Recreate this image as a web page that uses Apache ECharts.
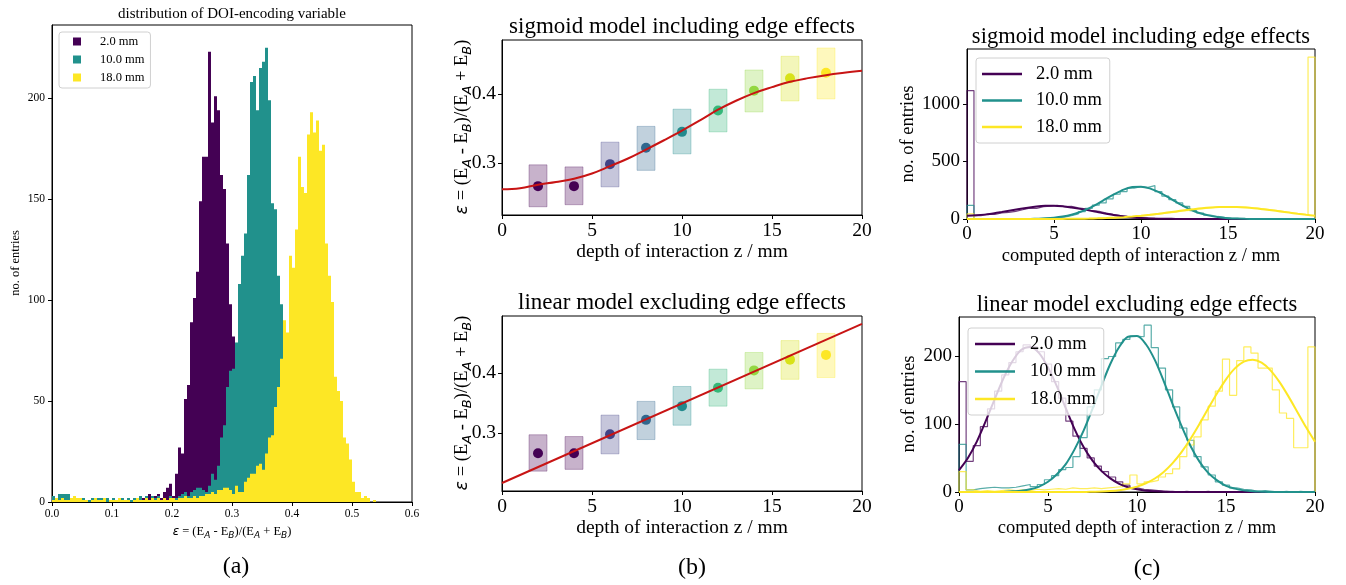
<!DOCTYPE html>
<html><head><meta charset="utf-8">
<script src="https://cdn.jsdelivr.net/npm/echarts@6/dist/echarts.min.js"></script>
<style>html,body{margin:0;padding:0;background:#fff}#c{width:1346px;height:585px}</style>
</head><body><div id="c"></div><script>
// ---------------- DATA ----------------
// (a) histogram of epsilon, bins of 0.005 starting at 0.0
const epsBinStart = 0.0;
const epsBinWidth = 0.005;
const epsHist2mm = [1,0,0,3,1,0,0,2,0,1, 0,0,0,1,0,0,2,1,1,1, 2,0,0,1,0,0,1,1,0,2,
  2,1,4,1,3,4,2,5,7,9, 3,14,27,24,51,58,89,101,114,149, 171,171,223,188,201,194,162,155,128,98,
  82,45,25,12,6,3,1,0,0,0, 0,0,0,0,0,0,0,0,0,0, 0,0,0,0,0,0,0,0,0,0, 0,0,0,0,0,0,0,0,0,0,
  0,0,0,0,0,0,0,0,0,0, 0,0,0,0,0,0,0,0,0,0];
const epsHist10mm = [3,2,4,4,4,4,1,2,1,0, 2,1,1,2,1,2,2,1,2,1, 2,1,2,2,1,2,1,2,1,3,
  1,3,1,3,2,3,1,2,1,3, 2,2,3,4,5,3,5,6,7,7, 6,5,8,14,11,18,32,38,57,65,
  66,79,108,122,133,162,208,211,194,215, 218,225,199,148,145,112,98,72,45,28,
  15,8,4,2,1,1,0,0,0,0, 0,0,0,0,0,0,0,0,0,0, 0,0,0,0,0,0,0,0,0,0];
const epsHist18mm = [1,2,1,2,1,1,2,3,2,2, 1,1,0,1,2,1,1,2,0,1, 1,1,2,1,1,1,0,1,2,1,
  1,2,1,2,1,2,1,2,1,2, 2,1,2,2,3,2,2,3,2,3, 3,4,4,5,4,6,6,7,7,6,
  4,8,5,5,10,12,14,14,18,19, 16,24,32,33,47,57,71,90,84,122,
  116,135,171,156,153,182,193,183,189,174, 177,128,112,99,62,55,50,32,29,21,
  10,5,5,2,3,2,0,1,0,0];
const aXTicks = [0, 0.1, 0.2, 0.3, 0.4, 0.5, 0.6];
const aYTicks = [0, 50, 100, 150, 200];
const seriesNames = ['2.0 mm', '10.0 mm', '18.0 mm'];

// (b) calibration points
const depths = [2, 4, 6, 8, 10, 12, 14, 16, 18];
const epsMean = [0.266, 0.266, 0.298, 0.322, 0.345, 0.376, 0.405, 0.423, 0.431];
const epsLow  = [0.236, 0.239, 0.265, 0.289, 0.313, 0.345, 0.374, 0.390, 0.393];
const epsHigh = [0.297, 0.294, 0.330, 0.353, 0.378, 0.407, 0.435, 0.455, 0.467];
const sigmoidZ = [0,1,2,3,4,5,6,7,8,9,10,11,12,13,14,15,16,17,18,19,20];
const sigmoidEps = [0.2613,0.2630,0.2680,0.2720,0.2768,0.2845,0.2951,0.3062,0.3193,0.3328,0.3468,
  0.3617,0.3772,0.3903,0.4014,0.4101,0.4178,0.4232,0.4275,0.4309,0.4338];
const linearZ = [0, 20];
const linearEps = [0.2161, 0.4829];
const bYTicks = [0.3, 0.4];
const zTicks = [0, 5, 10, 15, 20];

// (c) reconstructed depth histograms, bins of 0.4 mm from 0 to 20
const zBinStart = 0;
const zBinWidth = 0.4;
const sigHist2mm = [1115,30,42,40,52,57,66,80,95,92, 108,112,118,108,110,96,88,72,66,51,
  40,30,22,15,11,7,5,4,3,2, 1,1,0,1,0,0,0,0,0,0, 0,0,0,0,0,0,0,0,0,0];
const sigHist10mm = [118,3,1,2,1,1,2,1,2,1, 4,6,11,17,28,45,64,92,120,140,
  175,215,238,268,280,275,290,238,198,168, 140,110,72,52,34,22,14,8,5,3, 2,1,0,0,0,0,0,0,0,0];
const sigHist18mm = [44,2,1,2,1,1,2,1,2,2, 1,2,3,2,3,3,4,4,6,8,
  10,13,16,20,26,32,38,46,52,60, 70,74,86,90,96,103,100,108,104,103, 96,92,86,78,70,60,52,44,36,1406];
const linHist2mm = [162,45,68,96,122,148,172,190,206,216, 213,206,188,162,138,104,82,64,50,38,
  30,22,15,10,6,4,3,2,1,1, 0,1,0,0,1,0,0,0,0,0, 0,0,0,0,0,0,0,0,0,0];
const linHist10mm = [70,3,5,6,7,6,6,7,9,11, 8,11,18,24,33,36,52,80,125,150,
  196,199,219,224,229,228,245,212,182,150, 125,94,76,52,37,25,15,10,6,4, 3,1,2,1,0,1,0,1,0,1];
const linHist18mm = [30,3,1,2,1,2,3,2,3,2, 4,3,4,5,4,6,5,5,6,5,
  6,7,8,12,25,12,15,17,22,27, 34,52,69,81,106,126,148,195,142,193, 213,204,182,182,150,116,108,65,65,213];
// fitted gaussian curves, read at 0.5 mm steps
const fitZ = [0,0.5,1,1.5,2,2.5,3,3.5,4,4.5,5,5.5,6,6.5,7,7.5,8,8.5,9,9.5,10,
  10.5,11,11.5,12,12.5,13,13.5,14,14.5,15,15.5,16,16.5,17,17.5,18,18.5,19,19.5,20];
const sigFit2mm = [28,32,38,48,60,73,86,98,108,114,115,110,100,88,75,60,45,32,22,14,9,
  5,3,2,1,0.5,0,0,0,0,0,0,0,0,0,0,0,0,0,0,0];
const sigFit10mm = [0,0,0,0,0,0,0,0,2.6,5.6,11,21,37,61,93,132,176,218,255,277,281,
  266,235,194,150,108,72,45,27,15,7.5,3.5,1.6,0.7,0.3,0,0,0,0,0,0];
const sigFit18mm = [0,0,0,0,0,0,0,0,0,0,0.6,1.0,1.5,2.4,3.7,5.6,8.2,11.7,16,21.8,28.6,
  36.6,45.6,55.5,65.7,75.8,85,93.4,99.7,103.6,105,103.6,99.7,93.4,85,75.8,65.7,55.5,45.6,36.6,28.6];
const linFit2mm = [32,50,74,104,136,167,192,209,213,204,183,155,123,92,66,46,31,20,12,7,4,
  2,1,0.5,0,0,0,0,0,0,0,0,0,0,0,0,0,0,0,0,0];
const linFit10mm = [0,0,0,0,0,0,1,2,4,8,15,26,41,63,90,122,156,188,213,228,229,
  217,194,163,129,97,68,45,28,17,9,5,2.4,1,0.5,0,0,0,0,0,0];
const linFit18mm = [0,0,0,0,0,0,0,0,0,0,0,0,0,0,0,0.4,0.8,1.5,2.7,4.7,7.9,
  12.8,19.8,29.5,42.4,58.6,77.9,99.6,122.6,145,165.5,181.5,191.5,194.4,190,178.7,161.7,140.8,118,95,73.8];
const cTopYTicks = [0, 500, 1000];
const cBotYTicks = [0, 100, 200];

// ---------------- STYLE ----------------
const SERIF = "'Liberation Serif','Times New Roman',serif";
const COLS = ['#440154', '#21918c', '#fde725'];
const POINT_COLS = ['#440154','#440154','#414387','#31688e','#238a8d','#35b779','#93d741','#d8e219','#fde725'];
const RED = '#c81414';

function rgba(hex, a) {
  const n = parseInt(hex.slice(1), 16);
  return 'rgba(' + (n >> 16) + ',' + ((n >> 8) & 255) + ',' + (n & 255) + ',' + a + ')';
}
function stepData(counts, start, width) {
  const d = [[start, 0]];
  counts.forEach((c, i) => d.push([start + i * width, c]));
  d.push([start + counts.length * width, counts[counts.length - 1]]);
  d.push([start + counts.length * width, 0]);
  return d;
}
function pairs(xs, ys) { return xs.map((x, i) => [x, ys[i]]); }

function axisBase(gi, fs, margin, extra) {
  return Object.assign({
    type: 'value', gridIndex: gi,
    axisLine: {show: true, onZero: false, lineStyle: {color: '#000', width: 1}},
    axisTick: {show: true, inside: false, length: 4, lineStyle: {color: '#000', width: 1}},
    axisLabel: {color: '#000', fontFamily: SERIF, fontSize: fs, margin: margin, formatter: v => String(v)},
    splitLine: {show: false}
  }, extra);
}
function withTicks(ax, ticks, fmt) {
  ax.axisTick.customValues = ticks;
  ax.axisLabel.customValues = ticks;
  if (fmt) ax.axisLabel.formatter = fmt;
  return ax;
}
const f1 = v => Number(v).toFixed(1);

const grids = [
  {left: 52, top: 25, width: 360, height: 477},
  {left: 502, top: 40, width: 360, height: 175},
  {left: 502, top: 316, width: 360, height: 175},
  {left: 967, top: 49, width: 348, height: 170},
  {left: 959, top: 317, width: 356, height: 175}
].map(g => Object.assign({show: true, borderColor: '#000', borderWidth: 1, containLabel: false, outerBoundsMode: 'none'}, g));

const xAxes = [
  withTicks(axisBase(0, 11.5, 6, {min: 0, max: 0.6}), aXTicks, f1),
  withTicks(axisBase(1, 19.5, 6, {min: 0, max: 20}), zTicks),
  withTicks(axisBase(2, 19.5, 6, {min: 0, max: 20}), zTicks),
  withTicks(axisBase(3, 19, 6, {min: 0, max: 20}), zTicks),
  withTicks(axisBase(4, 19, 6, {min: 0, max: 20}), zTicks)
];
const yAxes = [
  withTicks(axisBase(0, 11.5, 7, {min: 0, max: 236.25}), aYTicks),
  withTicks(axisBase(1, 19.5, 6, {min: 0.224, max: 0.4787}), bYTicks, f1),
  withTicks(axisBase(2, 19.5, 6, {min: 0.2027, max: 0.4962}), bYTicks, f1),
  withTicks(axisBase(3, 19, 7, {min: 0, max: 1476}), cTopYTicks),
  withTicks(axisBase(4, 19, 7, {min: 0, max: 257}), cBotYTicks)
];

const series = [];
// (a) filled histograms
[epsHist2mm, epsHist10mm, epsHist18mm].forEach((h, i) => {
  series.push({
    type: 'line', name: seriesNames[i], xAxisIndex: 0, yAxisIndex: 0, step: 'end',
    data: stepData(h, epsBinStart, epsBinWidth), symbol: 'none',
    itemStyle: {color: COLS[i]}, lineStyle: {width: 0, color: COLS[i]},
    areaStyle: {color: COLS[i], opacity: 1}, silent: true
  });
});
// (b) panels
function bPanel(idx, curveZ, curveV) {
  series.push({
    type: 'custom', xAxisIndex: idx, yAxisIndex: idx,
    data: depths.map((z, i) => [z, epsLow[i], epsHigh[i]]),
    encode: {x: 0, y: [1, 2]},
    renderItem: (params, api) => {
      const z = api.value(0), lo = api.value(1), hi = api.value(2);
      const a = api.coord([z - 0.5, hi]), b = api.coord([z + 0.5, lo]);
      const c = POINT_COLS[params.dataIndex];
      return {type: 'rect', shape: {x: a[0], y: a[1], width: b[0] - a[0], height: b[1] - a[1]},
        style: {fill: rgba(c, 0.3), stroke: rgba(c, 0.3), lineWidth: 1}};
    }, silent: true
  });
  series.push({
    type: 'scatter', xAxisIndex: idx, yAxisIndex: idx, data: pairs(depths, epsMean),
    symbolSize: 10, itemStyle: {color: p => POINT_COLS[p.dataIndex], opacity: 1}, silent: true
  });
  series.push({
    type: 'line', xAxisIndex: idx, yAxisIndex: idx, data: pairs(curveZ, curveV),
    smooth: curveZ.length > 2 ? 0.4 : false, symbol: 'none',
    lineStyle: {color: RED, width: 2}, silent: true
  });
}
bPanel(1, sigmoidZ, sigmoidEps);
bPanel(2, linearZ, linearEps);
// (c) panels
function cPanel(idx, hists, fits, suffix) {
  hists.forEach((h, i) => {
    series.push({
      type: 'line', name: 'hist' + idx + i, xAxisIndex: idx, yAxisIndex: idx, step: 'end',
      data: stepData(h, zBinStart, zBinWidth), symbol: 'none',
      lineStyle: {color: COLS[i], width: 1.2, opacity: 0.75}, silent: true
    });
  });
  fits.forEach((f, i) => {
    series.push({
      type: 'line', name: seriesNames[i] + suffix, xAxisIndex: idx, yAxisIndex: idx,
      data: pairs(fitZ, f), smooth: 0.3, symbol: 'none', showSymbol: false,
      itemStyle: {color: COLS[i]}, lineStyle: {color: COLS[i], width: 2}, silent: true
    });
  });
}
cPanel(3, [sigHist2mm, sigHist10mm, sigHist18mm], [sigFit2mm, sigFit10mm, sigFit18mm], ' ');
cPanel(4, [linHist2mm, linHist10mm, linHist18mm], [linFit2mm, linFit10mm, linFit18mm], '  ');

const legendBox = {backgroundColor: 'rgba(255,255,255,0.8)', borderColor: '#d0d0d0', borderWidth: 1, borderRadius: 3, selectedMode: false, orient: 'vertical'};
const legends = [
  Object.assign({}, legendBox, {
    left: 59, top: 32, data: seriesNames, icon: 'rect', itemWidth: 8, itemHeight: 8, itemGap: 5,
    padding: [3, 6, 4, 14],
    textStyle: {fontFamily: SERIF, fontSize: 12.5, color: '#000', padding: [0, 0, 0, 14]}
  }),
  Object.assign({}, legendBox, {
    left: 976, top: 58, data: seriesNames.map(n => n + ' '), icon: 'rect', itemWidth: 40, itemHeight: 2.5, itemGap: 6.5,
    padding: [6, 8, 6, 6], formatter: n => n.trim(),
    textStyle: {fontFamily: SERIF, fontSize: 18.5, lineHeight: 20, color: '#000', padding: [0, 0, 0, 9]}
  }),
  Object.assign({}, legendBox, {
    left: 968, top: 328, data: seriesNames.map(n => n + '  '), icon: 'rect', itemWidth: 40, itemHeight: 2.5, itemGap: 7.5,
    padding: [6, 8, 6, 7], formatter: n => n.trim(),
    textStyle: {fontFamily: SERIF, fontSize: 18.5, lineHeight: 20, color: '#000', padding: [0, 0, 0, 10]}
  })
];

// ---------------- TEXT ----------------
function txt(x, y, text, size, rot) {
  return {type: 'text', x: x, y: y, rotation: rot ? Math.PI / 2 : 0, silent: true,
    style: {text: text, fontFamily: SERIF, fontSize: size, fill: '#000', align: 'center', verticalAlign: 'middle'}};
}
function epsTxt(x, y, size, rot) {
  const sub = Math.round(size * 0.7);
  const lh = Math.round(size * 1.3);
  return {type: 'text', x: x, y: y, rotation: rot ? Math.PI / 2 : 0, silent: true,
    style: {
      text: '{e|ε} = (E{s|A} - E{s|B})/(E{s|A} + E{s|B})',
      fontFamily: SERIF, fontSize: size, lineHeight: lh, fill: '#000', align: 'center', verticalAlign: 'middle',
      rich: {
        e: {fontFamily: 'DejaVu Sans', fontStyle: 'italic', fontSize: size * 0.95, lineHeight: lh},
        s: {fontFamily: 'DejaVu Sans', fontStyle: 'italic', fontSize: sub, lineHeight: lh, verticalAlign: 'bottom'}
      }
    }};
}
const graphics = [
  txt(232, 14, 'distribution of DOI-encoding variable', 15),
  txt(16, 263, 'no. of entries', 12.5, true),
  epsTxt(232, 532, 12.5),
  txt(236, 567, '(a)', 24),
  txt(682, 27, 'sigmoid model including edge effects', 23),
  epsTxt(462, 127, 18.5, true),
  txt(682, 252, 'depth of interaction z / mm', 19.5),
  txt(682, 303, 'linear model excluding edge effects', 23),
  epsTxt(462, 403, 18.5, true),
  txt(682, 528, 'depth of interaction z / mm', 19.5),
  txt(692, 568, '(b)', 24),
  txt(1141, 37, 'sigmoid model including edge effects', 22.5),
  txt(908, 134, 'no. of entries', 18.5, true),
  txt(1141, 256, 'computed depth of interaction z / mm', 18.5),
  txt(1137, 305, 'linear model excluding edge effects', 22.5),
  txt(909, 404, 'no. of entries', 18.5, true),
  txt(1137, 528, 'computed depth of interaction z / mm', 18.5),
  txt(1147, 569, '(c)', 24)
];

const chart = echarts.init(document.getElementById('c'), null, {renderer: 'canvas'});
chart.setOption({
  animation: false,
  backgroundColor: '#fff',
  grid: grids, xAxis: xAxes, yAxis: yAxes,
  legend: legends, series: series, graphic: graphics
});
</script></body></html>
